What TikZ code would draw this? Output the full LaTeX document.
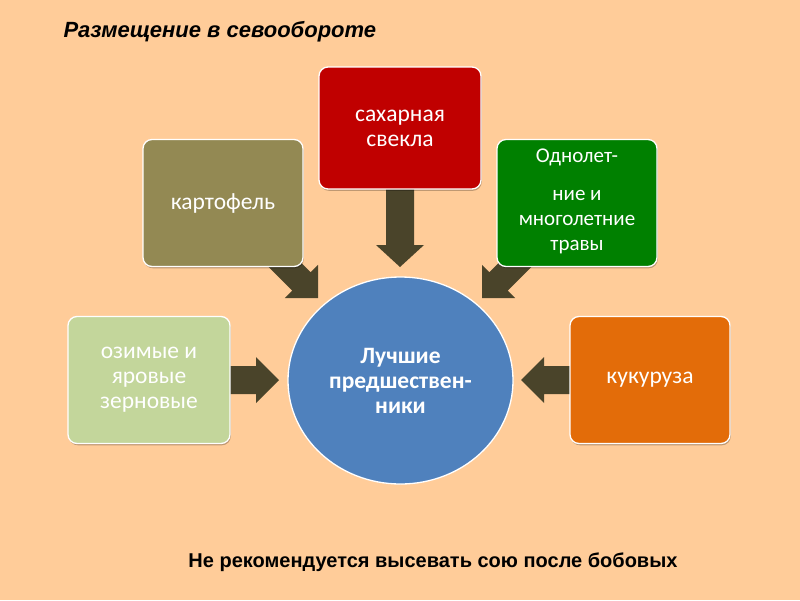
\documentclass[tikz,border=0pt]{standalone}
\usepackage{fontspec}
\setmainfont{Carlito}
\newfontfamily\arialf{Liberation Sans}
\usetikzlibrary{calc,shapes.geometric,shadows}
\definecolor{bgc}{HTML}{FFCC99}
\definecolor{arrowc}{HTML}{4A442A}
\definecolor{redc}{HTML}{C00000}
\definecolor{olivec}{HTML}{938953}
\definecolor{greenc}{HTML}{008000}
\definecolor{lgreenc}{HTML}{C3D69B}
\definecolor{orangec}{HTML}{E36C09}
\definecolor{bluec}{HTML}{4F81BD}
\newcommand\blockarrow[5]{%
  \coordinate (hb) at ($(#2)!#5!(#1)$);
  \fill[arrowc] ($(#1)!#3!90:(#2)$) -- ($(hb)!#3!90:(#2)$) -- ($(hb)!#4!90:(#2)$) -- (#2)
     -- ($(hb)!#4!-90:(#2)$) -- ($(hb)!#3!-90:(#2)$) -- ($(#1)!#3!-90:(#2)$) -- cycle;
}
\tikzset{
  box/.style={draw=white, line width=1.3pt, rounded corners=9pt, minimum width=160pt,
    minimum height=127pt, text=white, align=center, inner sep=2pt,
    font=\fontsize{23.5}{25}\selectfont,
    drop shadow={shadow xshift=0.8pt, shadow yshift=-1.8pt, opacity=0.25, fill=black}},
  hub/.style={ellipse, draw=white, line width=1.3pt, fill=bluec, minimum width=225pt,
    minimum height=207pt, text=white, align=center, inner sep=0pt,
    font=\bfseries\fontsize{23.5}{25}\selectfont},
}
\begin{document}
\begin{tikzpicture}[x=1pt,y=-1pt]
\fill[bgc] (0,0) rectangle (800,600);
\useasboundingbox (0,0) rectangle (800,600);

\node[anchor=west, font=\arialf\bfseries\itshape\fontsize{22}{26}\selectfont] (title) at (60,32) {Размещение в севообороте};
\node[font=\arialf\bfseries\fontsize{20}{24}\selectfont] (note) at (433,562) {Не рекомендуется высевать сою после бобовых};

% arrow anchor points
\coordinate (sOut) at (400,186);
\coordinate (sIn) at (400,267);
\coordinate (pOut) at (262,242);
\coordinate (pIn) at (318,298);
\coordinate (gOut) at (538,242);
\coordinate (gIn) at (482,298);
\coordinate (wOut) at (225,380);
\coordinate (wIn) at (279,380);
\coordinate (cOut) at (575,380);
\coordinate (cIn) at (521,380);

\blockarrow{sOut}{sIn}{14pt}{24pt}{22pt}
\blockarrow{pOut}{pIn}{13pt}{23.5pt}{23.5pt}
\blockarrow{gOut}{gIn}{13pt}{23.5pt}{23.5pt}
\blockarrow{wOut}{wIn}{14pt}{23pt}{23pt}
\blockarrow{cOut}{cIn}{14pt}{23pt}{23pt}

\node[box, fill=redc, minimum width=162pt, minimum height=122pt] (sugar) at (400,128) {сахарная\\свекла};
\node[box, fill=olivec] (potato) at (223,203) {картофель};
\node[box, fill=greenc, font=\fontsize{21}{25}\selectfont, text depth=6pt] (grass) at (577,203) {Однолет-\\[13pt]ние и\\многолетние\\травы};
\node[box, fill=lgreenc, minimum width=162pt] (winter) at (149,380) {озимые и\\яровые\\зерновые};
\node[box, fill=orangec] (corn) at (650,380) {кукуруза};

\node[hub] (center) at (400.5,380.5) {Лучшие\\предшествен-\\ники};
\end{tikzpicture}
\end{document}
